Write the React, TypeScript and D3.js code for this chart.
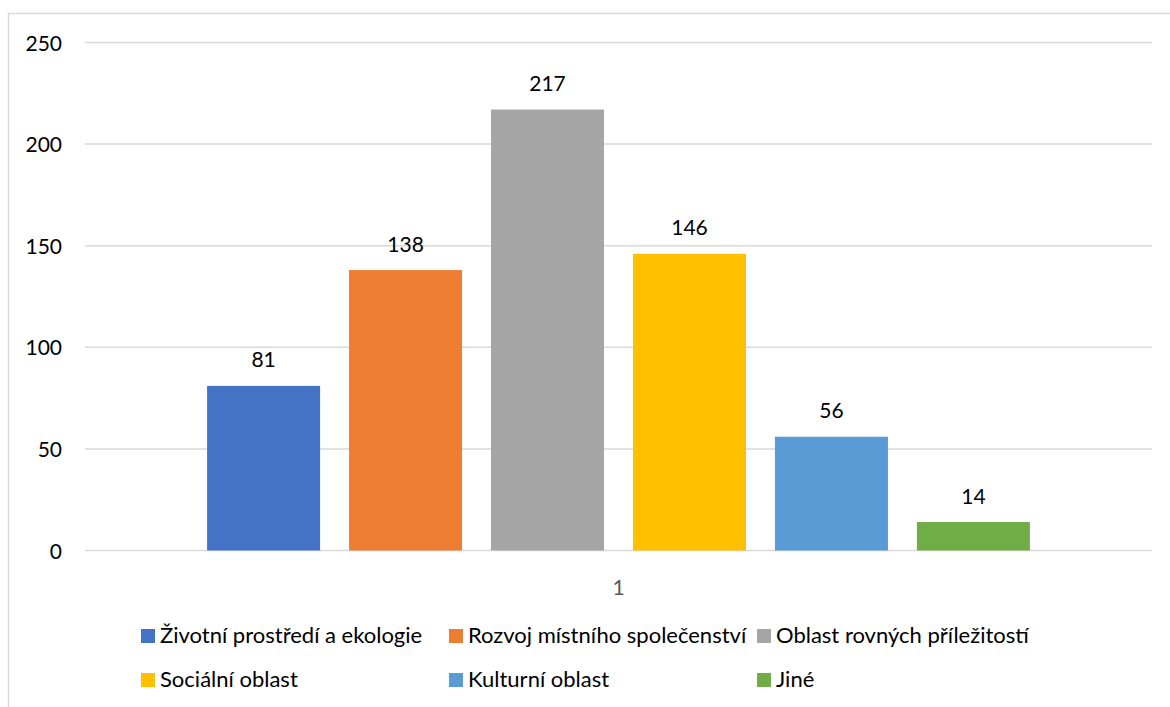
import React from "react";
import * as d3 from "d3";

const categories = ["1"];
const seriesNames = [
  "Životní prostředí a ekologie",
  "Rozvoj místního společenství",
  "Oblast rovných příležitostí",
  "Sociální oblast",
  "Kulturní oblast",
  "Jiné",
];
const seriesValues = [81, 138, 217, 146, 56, 14];
const seriesColors = ["#4472C4", "#ED7D31", "#A5A5A5", "#FFC000", "#5B9BD5", "#70AD47"];
const yTicks = [0, 50, 100, 150, 200, 250];

const W = 1170;
const H = 707;
const FONT = "Lato, 'Liberation Sans', sans-serif";

export default function App() {
  const plotLeft = 85;
  const plotRight = 1152;
  const plotTop = 42.5;
  const plotBottom = 550.5;

  const x0 = d3.scaleBand<string>().domain(categories).range([plotLeft, plotRight]);
  const x1 = d3
    .scaleBand<string>()
    .domain(seriesNames)
    .range([0, x0.bandwidth()])
    .paddingInner(0.204)
    .paddingOuter(0.86);
  const y = d3.scaleLinear().domain([0, 250]).range([plotBottom, plotTop]);

  const legendX0 = 141;
  const legendColW = 308;
  const legendRowY = [643, 687];
  const perRow = 3;

  return (
    <svg
      width={W}
      height={H}
      style={{ position: "absolute", left: 0, top: 0, background: "#fff" }}
      fontFamily={FONT}
    >
      <rect x={8.5} y={13.5} width={1200} height={720} fill="#fff" stroke="#D9D9D9" strokeWidth={1.5} />
      {yTicks.map((t) => (
        <g key={t}>
          <line
            x1={plotLeft}
            x2={plotRight}
            y1={y(t)}
            y2={y(t)}
            stroke="#D9D9D9"
            strokeWidth={1.5}
          />
          <text x={62} y={y(t) + 8} textAnchor="end" fontSize={21} fill="#000">
            {t}
          </text>
        </g>
      ))}
      {categories.map((c) => (
        <g key={c}>
          {seriesNames.map((s, i) => {
            const bx = (x0(c) as number) + (x1(s) as number);
            const v = seriesValues[i];
            return (
              <g key={s}>
                <rect
                  x={bx}
                  y={y(v)}
                  width={x1.bandwidth()}
                  height={y(0) - y(v)}
                  fill={seriesColors[i]}
                />
                <text
                  x={bx + x1.bandwidth() / 2}
                  y={y(v) - 18.5}
                  textAnchor="middle"
                  fontSize={21}
                  fill="#000"
                >
                  {v}
                </text>
              </g>
            );
          })}
          <text
            x={(x0(c) as number) + x0.bandwidth() / 2}
            y={595}
            textAnchor="middle"
            fontSize={21}
            fill="#595959"
          >
            {c}
          </text>
        </g>
      ))}
      {seriesNames.map((s, i) => {
        const col = i % perRow;
        const row = Math.floor(i / perRow);
        const lx = legendX0 + col * legendColW;
        const ly = legendRowY[row];
        return (
          <g key={s}>
            <rect x={lx} y={ly - 14} width={14} height={14} fill={seriesColors[i]} />
            <text x={lx + 19} y={ly} fontSize={22} fill="#000">
              {s}
            </text>
          </g>
        );
      })}
    </svg>
  );
}
